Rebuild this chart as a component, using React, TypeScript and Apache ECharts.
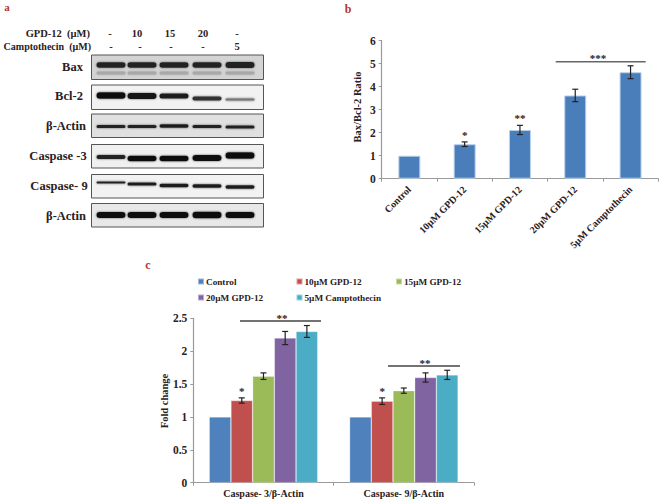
import React, { useEffect, useRef } from "react";
import * as echarts from "echarts";

const ratioCategories = ["Control", "10µM GPD-12", "15µM GPD-12", "20µM GPD-12", "5µM Camptothecin"];
const ratioValues = [1, 1.5, 2.12, 3.62, 4.63];
const ratioErrors = [0, 0.1, 0.2, 0.27, 0.28];
const ratioStars = ["", "*", "**", "", ""];

const foldCategories = ["Caspase- 3/β-Actin", "Caspase- 9/β-Actin"];
const seriesNames = ["Control", "10µM GPD-12", "15µM GPD-12", "20µM GPD-12", "5µM Camptothecin"];
const seriesColors = ["#4f81bd", "#c0504d", "#9bbb59", "#8064a2", "#4bacc6"];
const controlValues = [1, 1];
const gpd10Values = [1.25, 1.24];
const gpd15Values = [1.62, 1.4];
const gpd20Values = [2.2, 1.6];
const campValues = [2.3, 1.64];
const controlErrors = [0, 0];
const gpd10Errors = [0.04, 0.05];
const gpd15Errors = [0.05, 0.04];
const gpd20Errors = [0.1, 0.07];
const campErrors = [0.09, 0.07];
const gpd10Stars = ["*", "*"];

const gpdHeader = ["-", "10", "15", "20", "-"];
const campHeader = ["-", "-", "-", "-", "5"];

const FONT = '"Liberation Serif", serif';
const INK = "#2b2020";
const RED = "#b5392c";

function txt(x: number, y: number, text: string, size = 11.5, align = "center", fill = INK, rotation = 0) {
  return {
    type: "text", x, y, rotation, silent: true,
    style: { text, fill, font: `bold ${size}px ${FONT}`, textAlign: align, textVerticalAlign: "middle" },
  };
}

// Western-blot panel: one row per antibody; band y-centres, thicknesses and darkness per lane.
const laneX = [111, 142, 174, 207, 240];
const blotRows = [
  { label: "Bax", lx: 72.5, ly: 67, top: 55, h: 24.5, bg: "#d4d4d4", ys: [65, 65, 65, 65, 65], th: [5.5, 5.5, 5.5, 5.5, 6], dark: ["#222", "#222", "#222", "#222", "#222"], sub: 73 },
  { label: "Bcl-2", lx: 69, ly: 96, top: 85, h: 24.5, bg: "#f2f2f2", ys: [95.5, 96, 96, 98.5, 99.5], th: [6.5, 6, 5, 4, 2], dark: ["#111", "#151515", "#1c1c1c", "#333", "#777"] },
  { label: "β-Actin", lx: 66, ly: 126, top: 114, h: 23.5, bg: "#e0e0e0", ys: [126.5, 126.5, 126, 126.5, 127], th: [3, 3, 3.5, 3, 3], dark: ["#222", "#222", "#1c1c1c", "#222", "#222"] },
  { label: "Caspase -3", lx: 58, ly: 156, top: 144.5, h: 23.5, bg: "#f0f0f0", ys: [157, 158.5, 158.5, 158, 155.5], th: [4, 5.5, 5.5, 6, 6.5], dark: ["#222", "#111", "#111", "#111", "#111"] },
  { label: "Caspase- 9", lx: 59, ly: 186, top: 174.5, h: 23.5, bg: "#f2f2f2", ys: [182.5, 184, 185.5, 186, 187], th: [2, 3, 3.5, 3.5, 3.5], dark: ["#222", "#1c1c1c", "#1c1c1c", "#1c1c1c", "#1c1c1c"] },
  { label: "β-Actin", lx: 66, ly: 216, top: 203.5, h: 23.5, bg: "#e8e8e8", ys: [215, 215, 215, 215, 215], th: [6, 6, 6, 6.5, 6], dark: ["#111", "#111", "#111", "#111", "#111"] },
];

function blotPanel() {
  const out: any[] = [];
  gpdHeader.forEach((t, i) => out.push(txt([110, 137, 170, 203, 237][i], 33.5, t, 10.5)));
  campHeader.forEach((t, i) => out.push(txt([111, 140, 171, 203, 237][i], 46, t, 10.5)));
  out.push(txt(90, 33.5, "GPD-12  (µM)", 10.5, "right"));
  out.push(txt(91, 46, "Camptothecin  (µM)", 10, "right"));
  blotRows.forEach((r) => {
    out.push(txt(r.lx, r.ly, r.label, 12.5));
    out.push({
      type: "rect", silent: true,
      shape: { x: 91.5, y: r.top, width: 172, height: r.h },
      style: { fill: r.bg, stroke: "#555", lineWidth: 1 },
    });
    laneX.forEach((x, i) => {
      const w = 29;
      if (r.sub) {
        out.push({
          type: "rect", silent: true,
          shape: { x: x - w / 2, y: r.sub - 1.5, width: w, height: 3, r: 1.5 },
          style: { fill: "#a8a8a8", shadowBlur: 2, shadowColor: "#aaa" },
        });
      }
      out.push({
        type: "rect", silent: true,
        shape: { x: x - w / 2, y: r.ys[i] - r.th[i] / 2, width: w, height: r.th[i], r: r.th[i] / 2 },
        style: { fill: r.dark[i], shadowBlur: 2, shadowColor: "#666" },
      });
    });
  });
  return out;
}

const BAR_W = 21.7;

function App() {
  const ref = useRef<HTMLDivElement>(null);
  useEffect(() => {
    document.body.style.margin = "0";
    const chart = echarts.init(ref.current!, null, { renderer: "svg" });

    const errorBar = (offset: number, cap = 3) => (_: any, api: any) => {
      const cat = api.value(0);
      const lo = api.coord([cat, api.value(1)]);
      const hi = api.coord([cat, api.value(2)]);
      const x = lo[0] + offset;
      const stroke = { stroke: "#222", lineWidth: 1.2 };
      const children: any[] = [
        { type: "line", shape: { x1: x, y1: lo[1], x2: x, y2: hi[1] }, style: stroke },
        { type: "line", shape: { x1: x - cap, y1: lo[1], x2: x + cap, y2: lo[1] }, style: stroke },
        { type: "line", shape: { x1: x - cap, y1: hi[1], x2: x + cap, y2: hi[1] }, style: stroke },
      ];
      const star = api.value(3);
      if (star) {
        children.push({
          type: "text", x, y: hi[1] - 7,
          style: { text: star, fill: INK, font: `bold 11px ${FONT}`, textAlign: "center", textVerticalAlign: "middle" },
        });
      }
      return { type: "group", children };
    };

    const foldValues = [controlValues, gpd10Values, gpd15Values, gpd20Values, campValues];
    const foldErrors = [controlErrors, gpd10Errors, gpd15Errors, gpd20Errors, campErrors];

    const axisStyle = { lineStyle: { color: "#9a9a9a", width: 1.2 } };
    const tickStyle = { show: true, length: 3, lineStyle: { color: "#9a9a9a" } };
    const labelStyle = { color: INK, fontFamily: FONT, fontWeight: "bold" as const };

    const legendSpots = [
      [197, 277], [295.5, 277], [395, 277], [197, 293], [295.5, 293],
    ];

    chart.setOption({
      animation: false,
      backgroundColor: "#fff",
      textStyle: { fontFamily: FONT },
      grid: [
        { left: 381.7, top: 40.7, width: 276.5, height: 138 },
        { left: 193.3, top: 318.3, width: 280.7, height: 164.4 },
      ],
      legend: seriesNames.map((n, i) => ({
        data: [n], left: legendSpots[i][0], top: legendSpots[i][1],
        itemWidth: 6, itemHeight: 6, itemGap: 2, padding: 0,
        icon: "rect",
        textStyle: { ...labelStyle, fontSize: 9.2, padding: [0, 0, 0, -3] },
      })),
      xAxis: [
        {
          type: "category", gridIndex: 0, data: ratioCategories,
          axisLine: axisStyle, axisTick: tickStyle,
          axisLabel: { ...labelStyle, fontSize: 10, rotate: 45, margin: 9, interval: 0 },
        },
        {
          type: "category", gridIndex: 1, data: foldCategories,
          axisLine: axisStyle, axisTick: tickStyle,
          axisLabel: { ...labelStyle, fontSize: 10, margin: 6, interval: 0 },
        },
      ],
      yAxis: [
        {
          type: "value", gridIndex: 0, min: 0, max: 6, interval: 1,
          axisLine: { show: true, ...axisStyle }, axisTick: tickStyle, splitLine: { show: false },
          axisLabel: { ...labelStyle, fontSize: 11.5, margin: 6 },
        },
        {
          type: "value", gridIndex: 1, min: 0, max: 2.5, interval: 0.5,
          axisLine: { show: true, ...axisStyle }, axisTick: tickStyle, splitLine: { show: false },
          axisLabel: { ...labelStyle, fontSize: 11.5, margin: 6, formatter: (v: number) => String(v) },
        },
      ],
      series: [
        {
          type: "bar", xAxisIndex: 0, yAxisIndex: 0, data: ratioValues, barWidth: 22,
          itemStyle: { color: "#4a7ebb", borderColor: "#bcd2ea", borderWidth: 1 },
          legendHoverLink: false,
        },
        {
          type: "custom", xAxisIndex: 0, yAxisIndex: 0,
          renderItem: errorBar(0),
          data: ratioValues.map((v, i) => (ratioErrors[i] ? [i, v - ratioErrors[i], v + ratioErrors[i], ratioStars[i]] : null)).filter(Boolean),
          encode: { x: 0, y: 2 },
          z: 5,
        },
        ...seriesNames.map((name, s) => ({
          type: "bar", name, xAxisIndex: 1, yAxisIndex: 1, data: foldValues[s], barWidth: BAR_W, barGap: "0%",
          itemStyle: { color: seriesColors[s], borderColor: "rgba(255,255,255,0.45)", borderWidth: 0.6 },
        })),
        ...seriesNames.slice(1).map((_, k) => {
          const s = k + 1;
          return {
            type: "custom", xAxisIndex: 1, yAxisIndex: 1,
            renderItem: errorBar((s - 2) * BAR_W),
            data: foldValues[s].map((v, i) => [i, v - foldErrors[s][i], v + foldErrors[s][i], s === 1 ? gpd10Stars[i] : ""]),
            encode: { x: 0, y: 2 },
            z: 5,
          };
        }),
      ],
      graphic: [
        txt(7, 7, "a", 11, "center", RED),
        txt(348, 9, "b", 12, "center", RED),
        txt(148, 265, "c", 12, "center", RED),
        ...blotPanel(),
        txt(357, 107, "Bax/Bcl-2 Ratio", 10.5, "center", INK, Math.PI / 2),
        txt(164, 401, "Fold change", 10.5, "center", INK, Math.PI / 2),
        { type: "line", silent: true, shape: { x1: 555.7, y1: 61.7, x2: 645.7, y2: 61.7 }, style: { stroke: "#666", lineWidth: 1.5 } },
        txt(598, 58, "***", 11),
        { type: "line", silent: true, shape: { x1: 240, y1: 321, x2: 321, y2: 321 }, style: { stroke: "#444", lineWidth: 1.3 } },
        txt(282, 318, "**", 11),
        { type: "line", silent: true, shape: { x1: 388, y1: 366, x2: 460, y2: 366 }, style: { stroke: "#444", lineWidth: 1.3 } },
        txt(425, 363, "**", 11),
      ],
    });
    return () => chart.dispose();
  }, []);
  return <div ref={ref} style={{ width: 661, height: 502 }} />;
}

export default App;
